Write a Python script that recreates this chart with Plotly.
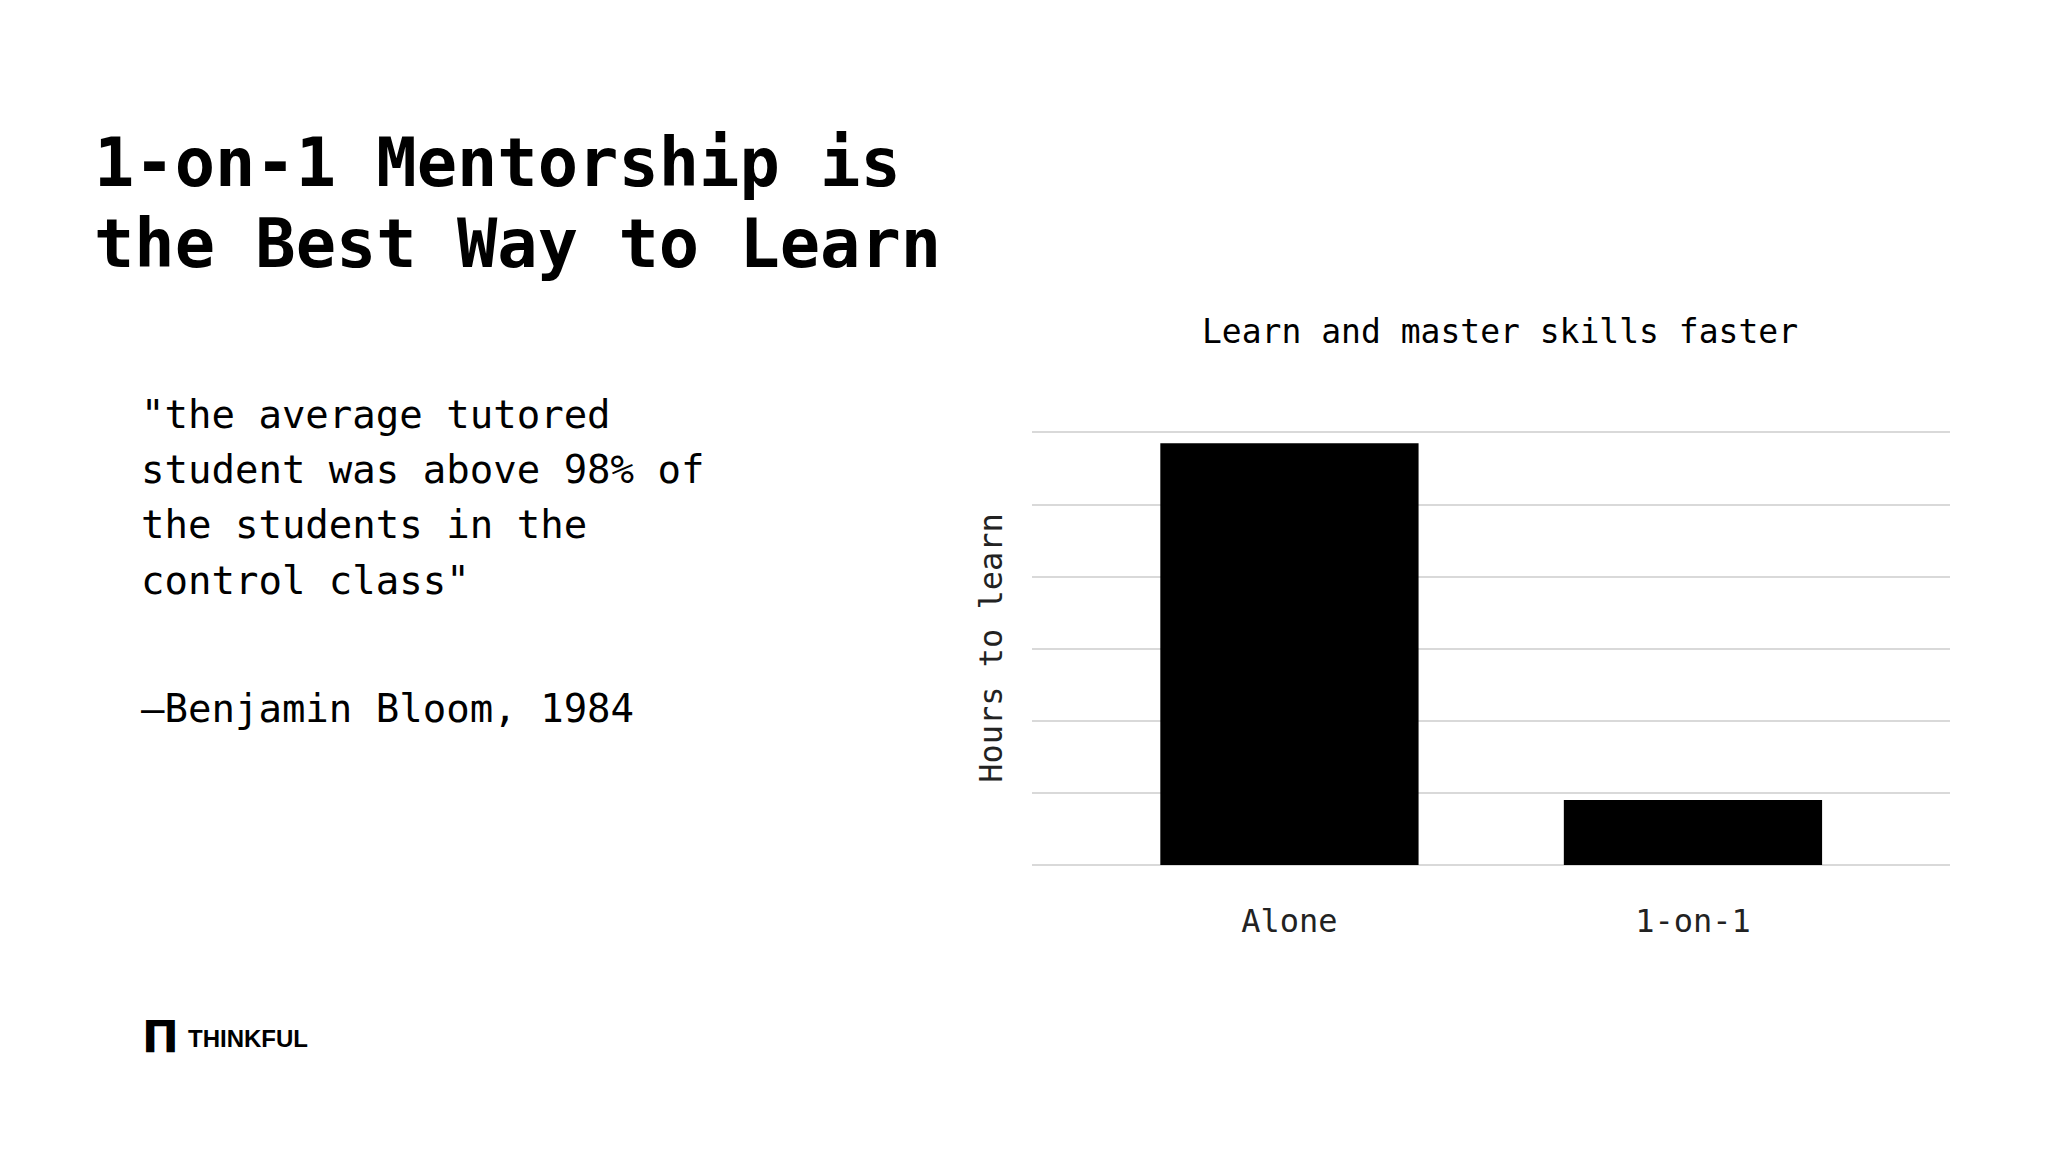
import plotly.graph_objects as go

categories = ['Alone', '1-on-1']
hours = [5.85, 0.9]

MONO = "DejaVu Sans Mono"

fig = go.Figure(go.Bar(x=[0, 1], y=hours, width=0.64,
                       marker=dict(color='black', line=dict(width=0))))

fig.update_layout(
    width=2048, height=1152,
    plot_bgcolor="white", paper_bgcolor="white",
    margin=dict(l=0, r=0, t=0, b=0),
    showlegend=False,
    font=dict(family=MONO, color="black"),
    xaxis=dict(domain=[1024/2048, 1942/2048], range=[-0.638, 1.637],
               tickvals=[0, 1], ticktext=categories,
               showgrid=False, showline=False, zeroline=False,
               tickfont=dict(size=32, color="#222"), ticks="", ticklabelstandoff=34),
    yaxis=dict(domain=[1 - 857/1152, 1 - 423/1152], range=[0, 6.02], dtick=1,
               showticklabels=False, gridcolor="#d9d9d9", gridwidth=1.5,
               zeroline=True, zerolinecolor="#d9d9d9", zerolinewidth=1.5,
               title=dict(text="Hours to learn", font=dict(size=32, color="#222"), standoff=18)),
)

ann = [
    dict(x=84, y=155, text="<b>1-on-1 Mentorship is</b>", size=67, xa="left"),
    dict(x=84, y=236, text="<b>the Best Way to Learn</b>", size=67, xa="left"),
    dict(x=1492, y=323, text="Learn and master skills faster", size=33, xa="center"),
    dict(x=131, y=406, text='"the average tutored', size=39, xa="left"),
    dict(x=131, y=461, text='student was above 98% of', size=39, xa="left"),
    dict(x=131, y=516, text='the students in the', size=39, xa="left"),
    dict(x=131, y=572, text='control class"', size=39, xa="left"),
    dict(x=131, y=700, text='\u2014Benjamin Bloom, 1984', size=39, xa="left"),
    dict(x=178, y=1030, text='<b>THINKFUL</b>', size=24, xa="left", fam="Liberation Sans"),
    dict(x=152, y=1029, text='<b>\u03a0</b>', size=44, xa="center", fam="DejaVu Sans"),
]
for a in ann:
    fig.add_annotation(x=a["x"] / 2048, y=1 - a["y"] / 1152, xref="paper", yref="paper",
                       text=a["text"], showarrow=False, xanchor=a["xa"], yanchor="middle",
                       font=dict(size=a["size"], family=a.get("fam", MONO), color="black"))

fig.write_html("out.html")
